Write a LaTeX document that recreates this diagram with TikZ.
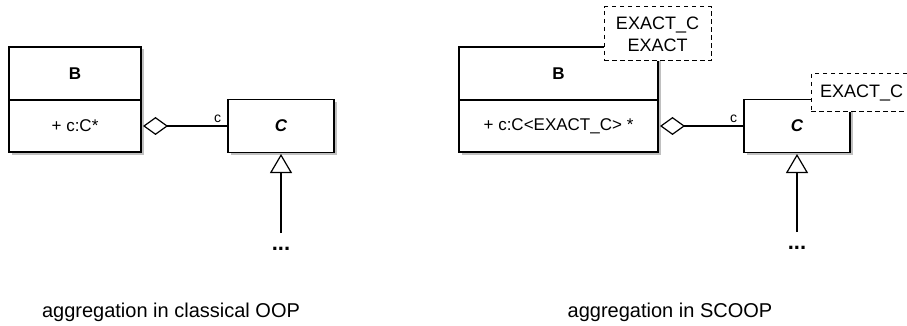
\documentclass[tikz,border=0pt]{standalone}
\usepackage{fontspec}
\setmainfont{Liberation Sans}
\usepackage{tikz}
\usetikzlibrary{shapes.geometric, arrows.meta, positioning, shadows}
\definecolor{shadowgray}{RGB}{150, 150, 150}

\begin{document}
\begin{tikzpicture}[
    x=1pt, y=-1pt,
    umlbox/.style={draw, fill=white, line width=1.2pt, outer sep=0pt, inner sep=0pt,
        drop shadow={shadow xshift=2.5pt, shadow yshift=-2.5pt, fill=shadowgray, opacity=0.6}},
    classtitle/.style={umlbox, font=\fontsize{17}{20}\selectfont\bfseries, minimum height=53pt},
    classbody/.style={umlbox, font=\fontsize{17}{20}\selectfont, minimum height=52pt},
    abstractbox/.style={umlbox, font=\fontsize{17}{20}\selectfont\bfseries\itshape, minimum width=106pt, minimum height=53pt},
    parambox/.style={draw, dash pattern=on 4.5pt off 3.5pt, fill=white, line width=1pt, align=center, inner sep=0pt, font=\fontsize{18}{22}\selectfont},
    caption/.style={font=\fontsize{20}{24}\selectfont},
    dots/.style={font=\fontsize{22}{24}\selectfont\bfseries},
    aggr/.style={-{Diamond[open, length=25pt, width=18pt]}, line width=1.2pt, shorten >=2pt},
    inherit/.style={-{Triangle[open, length=19pt, width=22pt]}, line width=1.2pt, shorten >=1.5pt},
    rolename/.style={font=\fontsize{14}{16}\selectfont, above, inner sep=2.5pt}
]
    \useasboundingbox (0,0) rectangle (907,326);

    % Classical OOP
    \node[classtitle, minimum width=132pt] (titleB) at (75, 73.5) {B};
    \node[classbody, minimum width=132pt, below=0pt of titleB] (bodyB) {+ c:C*};
    \node[abstractbox] (boxC) at (281, 126) {C};
    \node[dots] (dotsC) at (281, 249) {...};
    \coordinate (endC) at (281, 233);

    \draw[aggr] (boxC) -- (bodyB) node[rolename, pos=0.12] {c};
    \draw[inherit] (endC) -- (boxC);

    \node[caption] (capOOP) at (171, 312.5) {aggregation in classical OOP};

    % SCOOP
    \node[classtitle, minimum width=199pt] (titleBs) at (558.5, 73.5) {B};
    \node[classbody, minimum width=199pt, below=0pt of titleBs] (bodyBs) {+ c:C<EXACT\_C> *};
    \node[abstractbox] (boxCs) at (797, 126) {C};
    \node[dots] (dotsCs) at (797, 248) {...};
    \coordinate (endCs) at (797, 232);

    \draw[aggr] (boxCs) -- (bodyBs) node[rolename, pos=0.12] {c};
    \draw[inherit] (endCs) -- (boxCs);

    % Parameters
    \node[parambox, minimum width=107pt, minimum height=54pt] (paramB) at (657.5, 34) {EXACT\_C\\EXACT};
    \node[parambox, minimum width=101pt, minimum height=38pt] (paramC) at (861.5, 93) {EXACT\_C};

    \node[caption] (capSCOOP) at (670, 312.5) {aggregation in SCOOP};
\end{tikzpicture}
\end{document}
